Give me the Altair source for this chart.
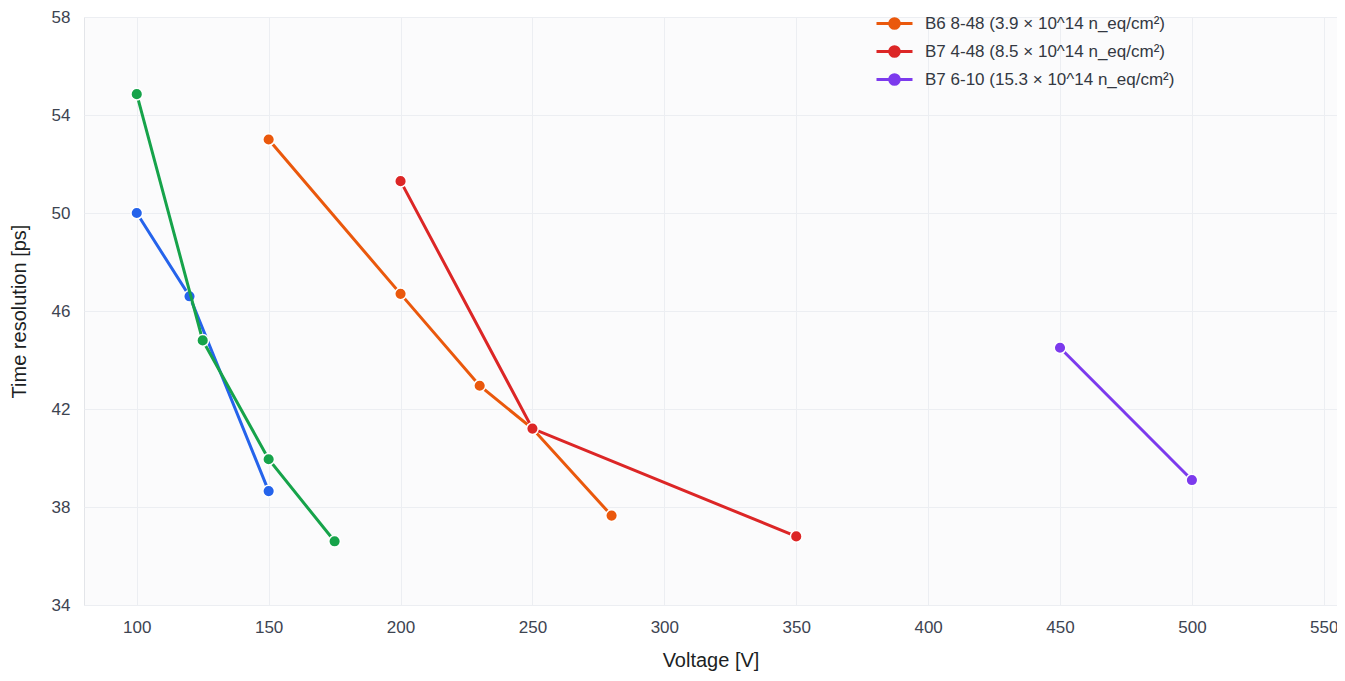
import altair as alt
import pandas as pd

# ---- data ----
series_names = [
    "Series 1",
    "Series 2",
    "B6 8-48 (3.9 × 10^14 n_eq/cm²)",
    "B7 4-48 (8.5 × 10^14 n_eq/cm²)",
    "B7 6-10 (15.3 × 10^14 n_eq/cm²)",
]
series_colors = ["#2563eb", "#16a34a", "#ea580c", "#dc2626", "#7c3aed"]

s1_voltage = [100, 120, 150]
s1_res = [50.0, 46.6, 38.65]

s2_voltage = [100, 125, 150, 175]
s2_res = [54.85, 44.8, 39.95, 36.6]

s3_voltage = [150, 200, 230, 250, 280]
s3_res = [53.0, 46.7, 42.95, 41.2, 37.65]

s4_voltage = [200, 250, 350]
s4_res = [51.3, 41.2, 36.8]

s5_voltage = [450, 500]
s5_res = [44.5, 39.1]

x_ticks = [100, 150, 200, 250, 300, 350, 400, 450, 500, 550]
y_ticks = [34, 38, 42, 46, 50, 54, 58]

all_v = [s1_voltage, s2_voltage, s3_voltage, s4_voltage, s5_voltage]
all_r = [s1_res, s2_res, s3_res, s4_res, s5_res]

rows = []
for name, vs, rs in zip(series_names, all_v, all_r):
    for v, r in zip(vs, rs):
        rows.append({"series": name, "voltage": v, "res": r})
df = pd.DataFrame(rows)

FONT = "Liberation Sans"

color_scale = alt.Scale(domain=series_names, range=series_colors)
legend_symbol = "M-3,0H3M-0.8,0A0.8,0.8,0,1,0,0.8,0A0.8,0.8,0,1,0,-0.8,0Z"

legend = alt.Legend(
    title=None,
    orient="none",
    legendX=802,
    legendY=-2,
    values=series_names[2:],
    symbolType=legend_symbol,
    symbolSize=144,
    symbolStrokeWidth=3,
    labelFont=FONT,
    labelFontSize=17,
    labelColor="#333842",
    labelOffset=22,
    rowPadding=5,
    padding=0,
    labelLimit=400,
)

x_enc = alt.X(
    "voltage:Q",
    scale=alt.Scale(domain=[80, 555], nice=False, zero=False),
    axis=alt.Axis(
        title="Voltage [V]",
        values=x_ticks,
        labelPadding=14,
        titlePadding=15,
    ),
)
y_enc = alt.Y(
    "res:Q",
    scale=alt.Scale(domain=[34, 58], nice=False, zero=False),
    axis=alt.Axis(
        title="Time resolution [ps]",
        values=y_ticks,
        labelPadding=14,
        titlePadding=22,
    ),
)

layers = []
for i, name in enumerate(series_names):
    base = alt.Chart(df).transform_filter(alt.datum.series == name)
    leg = legend if i == 0 else None
    line = base.mark_line(strokeWidth=3).encode(
        x=x_enc,
        y=y_enc,
        color=alt.Color("series:N", scale=color_scale, legend=leg, sort=series_names),
    )
    pts = base.mark_point(filled=True, size=135, stroke="white", strokeWidth=1.5, opacity=1).encode(
        x=x_enc,
        y=y_enc,
        fill=alt.Fill("series:N", scale=color_scale, legend=None, sort=series_names),
    )
    layers += [line, pts]

chart = (
    alt.layer(*layers)
    .resolve_scale(color="shared")
    .properties(
        width=1253,
        height=588,
        autosize=alt.AutoSizeParams(type="none"),
        padding={"left": 76, "top": 9, "right": 0, "bottom": 68},
        background="white",
    )
    .configure_view(fill="#fbfbfc", stroke="#e3e5e9", strokeWidth=1)
    .configure_axis(
        grid=True,
        gridColor="#eceef2",
        gridWidth=1,
        domain=False,
        ticks=False,
        labelFont=FONT,
        labelFontSize=17,
        labelColor="#3d4451",
        titleFont=FONT,
        titleFontSize=20,
        titleFontWeight="normal",
        titleColor="#1c1f24",
    )
    .configure_legend(
        symbolType=legend_symbol,
    )
)

chart.save("out.html", embed_options={"renderer": "svg", "actions": False})
